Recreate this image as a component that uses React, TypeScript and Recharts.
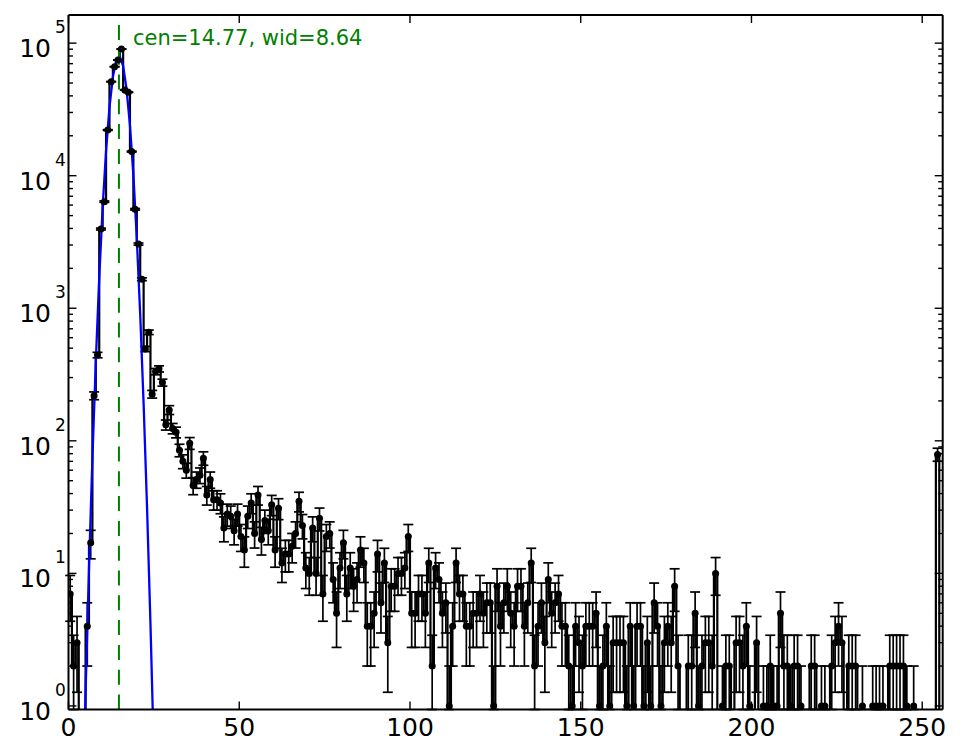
import React from 'react';
import { ComposedChart, Line, XAxis, YAxis, ErrorBar, ReferenceLine } from 'recharts';

// counts per channel, channel i drawn at its centre (i + 0.5)
const counts = [
    7, 2, 3, 0, 0, 4, 17, 219, 444, 3960, 6370, 22100, 51200, 66400, 74600, 90200,
    44300, 42600, 15200, 5580, 3050, 1655, 493, 659, 225, 333, 349, 275, 132, 171, 124, 116,
    85, 70, 60, 96, 46, 51, 55, 74, 39, 51, 36, 36, 34, 22, 28, 27,
    21, 28, 19, 15, 27, 34, 20, 39, 18, 25, 21, 33, 15, 31, 12, 14,
    14, 16, 20, 35, 23, 11, 10, 22, 10, 26, 7, 19, 20, 9, 5, 11,
    17, 7, 11, 8, 9, 15, 12, 4, 4, 5, 14, 6, 12, 3, 8, 8,
    10, 10, 11, 19, 5, 5, 7, 7, 5, 12, 2, 11, 9, 5, 6, 1,
    4, 12, 7, 7, 4, 4, 5, 5, 7, 5, 6, 6, 1, 8, 4, 6,
    8, 5, 4, 8, 8, 4, 6, 12, 2, 4, 6, 3, 9, 5, 6, 7,
    4, 4, 2, 1, 4, 3, 2, 4, 4, 4, 5, 1, 2, 4, 1, 3,
    3, 3, 3, 1, 4, 1, 4, 4, 1, 3, 1, 6, 4, 1, 3, 4,
    3, 8, 2, 0, 0, 2, 2, 5, 1, 2, 3, 3, 2, 10, 0, 1,
    2, 2, 0, 3, 3, 2, 4, 1, 0, 3, 0, 1, 1, 2, 1, 1,
    5, 2, 2, 1, 2, 2, 1, 0, 0, 2, 2, 0, 1, 1, 0, 2,
    3, 4, 3, 0, 2, 2, 2, 0, 1, 0, 0, 1, 1, 1, 1, 0,
    2, 2, 2, 2, 2, 1, 0, 1, 0, 0, 0, 0, 0, 0, 79, 0,
];

// gaussian fit, as drawn
const fitX = [4, 5, 6, 7, 8, 9, 10, 11, 12, 13, 14, 15, 16, 17, 18, 19, 20, 21, 22, 23, 24, 25];
const fitY = [
    0.12, 1.27, 10.9, 73.7, 398, 1698, 5752, 15440, 32900, 55670, 74700,
    79510, 67150, 44990, 23930, 10090, 3374, 896, 189, 31.5, 4.18, 0.44,
];
const fitCen = 14.77;
const fitWid = 8.64;

const xTicks = [0, 50, 100, 150, 200, 250];
const yMajor = [1, 10, 100, 1000, 10000, 100000];
const yMinorSteps = [2, 3, 4, 5, 6, 7, 8, 9];

const X_DOMAIN = [0, 256];
const Y_DOMAIN = [0.94, 163000];
const FLOOR = 0.01; // empty channels drop off the bottom of the log axis

const yTicks = [
    ...yMajor,
    ...yMajor.slice(0, -1).flatMap((d) => yMinorSteps.map((m) => m * d)),
].sort((a, b) => a - b);

const stepRows = counts.map((c, i) => ({ x: i + 0.5, y: c > 0 ? c : FLOOR }));
const pointRows = counts
    .map((c, i) => ({ x: i + 0.5, y: c, err: [c - Math.max(c - Math.sqrt(c), Y_DOMAIN[0]), Math.sqrt(c)] }))
    .filter((r) => r.y > 0);
const fitRows = fitX.map((x, i) => ({ x, y: fitY[i] }));

const isMajor = (v: number) => yMajor.includes(v);

const XTickBottom = (p: any) => (
    <g>
        <line x1={p.x} x2={p.x} y1={p.y} y2={p.y - 8} stroke="#000" strokeWidth={1.4} />
        <text x={p.x} y={p.y + 26.5} textAnchor="middle" fontSize={25} fill="#000">
            {p.payload.value}
        </text>
    </g>
);

const XTickTop = (p: any) => (
    <line x1={p.x} x2={p.x} y1={p.y} y2={p.y + 8} stroke="#000" strokeWidth={1.4} />
);

const YTickLeft = (p: any) => {
    const v = p.payload.value;
    const major = isMajor(v);
    return (
        <g>
            <line x1={p.x} x2={p.x + (major ? 8 : 4.5)} y1={p.y} y2={p.y} stroke="#000" strokeWidth={1.4} />
            {major && (
                <>
                    <text x={p.x - 17.5} y={p.y + 14} textAnchor="end" fontSize={25} fill="#000">10</text>
                    <text x={p.x - 13.5} y={p.y - 10} fontSize={17} fill="#000">
                        {Math.round(Math.log10(v))}
                    </text>
                </>
            )}
        </g>
    );
};

const YTickRight = (p: any) => {
    const major = isMajor(p.payload.value);
    return <line x1={p.x} x2={p.x - (major ? 8 : 4.5)} y1={p.y} y2={p.y} stroke="#000" strokeWidth={1.4} />;
};

const renderDot = (p: any) => <circle key={`d${p.index}`} cx={p.cx} cy={p.cy} r={3.5} fill="#000" />;

const spine = { stroke: '#000', strokeWidth: 2 };

export default function App() {
    return (
        <div style={{ width: 945, height: 740, fontFamily: '"DejaVu Sans", sans-serif' }}>
            <ComposedChart width={945} height={740} margin={{ top: 6, right: 9.3, bottom: 0, left: 0 }}>
                <XAxis
                    dataKey="x"
                    type="number"
                    domain={X_DOMAIN}
                    allowDataOverflow
                    ticks={xTicks}
                    interval={0}
                    height={38.5}
                    tickSize={0}
                    tickMargin={0}
                    tickLine={false}
                    axisLine={spine}
                    tick={(p: any) => <XTickBottom {...p} />}
                />
                <XAxis
                    xAxisId="top"
                    orientation="top"
                    dataKey="x"
                    type="number"
                    domain={X_DOMAIN}
                    allowDataOverflow
                    ticks={xTicks}
                    interval={0}
                    height={1}
                    tickSize={0}
                    tickMargin={0}
                    tickLine={false}
                    axisLine={spine}
                    tick={(p: any) => <XTickTop {...p} />}
                />
                <YAxis
                    type="number"
                    scale="log"
                    domain={Y_DOMAIN}
                    allowDataOverflow
                    ticks={yTicks}
                    interval={0}
                    width={60.5}
                    tickSize={0}
                    tickMargin={0}
                    tickLine={false}
                    axisLine={spine}
                    tick={(p: any) => <YTickLeft {...p} />}
                />
                <YAxis
                    yAxisId="right"
                    orientation="right"
                    type="number"
                    scale="log"
                    domain={Y_DOMAIN}
                    allowDataOverflow
                    ticks={yTicks}
                    interval={0}
                    width={1}
                    tickSize={0}
                    tickMargin={0}
                    tickLine={false}
                    axisLine={spine}
                    tick={(p: any) => <YTickRight {...p} />}
                />

                {/* histogram drawn as mid steps */}
                <Line
                    data={stepRows}
                    dataKey="y"
                    type="step"
                    stroke="#000"
                    strokeWidth={2.2}
                    dot={false}
                    activeDot={false}
                    isAnimationActive={false}
                />

                {/* markers with poisson error bars */}
                <Line
                    data={pointRows}
                    dataKey="y"
                    stroke="none"
                    dot={renderDot}
                    activeDot={false}
                    isAnimationActive={false}
                >
                    <ErrorBar dataKey="err" direction="y" width={5} stroke="#000" strokeWidth={1.7} />
                </Line>

                {/* fit */}
                <Line
                    data={fitRows}
                    dataKey="y"
                    type="linear"
                    stroke="#0000ff"
                    strokeWidth={2.3}
                    dot={false}
                    activeDot={false}
                    isAnimationActive={false}
                />

                {/* invisible copy so the mirrored top/right axes have a series */}
                <Line
                    xAxisId="top"
                    yAxisId="right"
                    data={fitRows}
                    dataKey="y"
                    stroke="none"
                    dot={false}
                    activeDot={false}
                    isAnimationActive={false}
                />

                <ReferenceLine
                    x={fitCen}
                    stroke="#008000"
                    strokeWidth={2}
                    strokeDasharray="15 9.8"
                    label={(p: any) => (
                        <text x={p.viewBox.x + 14} y={p.viewBox.y + 30} fill="#008000" fontSize={21}>
                            {`cen=${fitCen.toFixed(2)}, wid=${fitWid.toFixed(2)}`}
                        </text>
                    )}
                />
            </ComposedChart>
        </div>
    );
}
